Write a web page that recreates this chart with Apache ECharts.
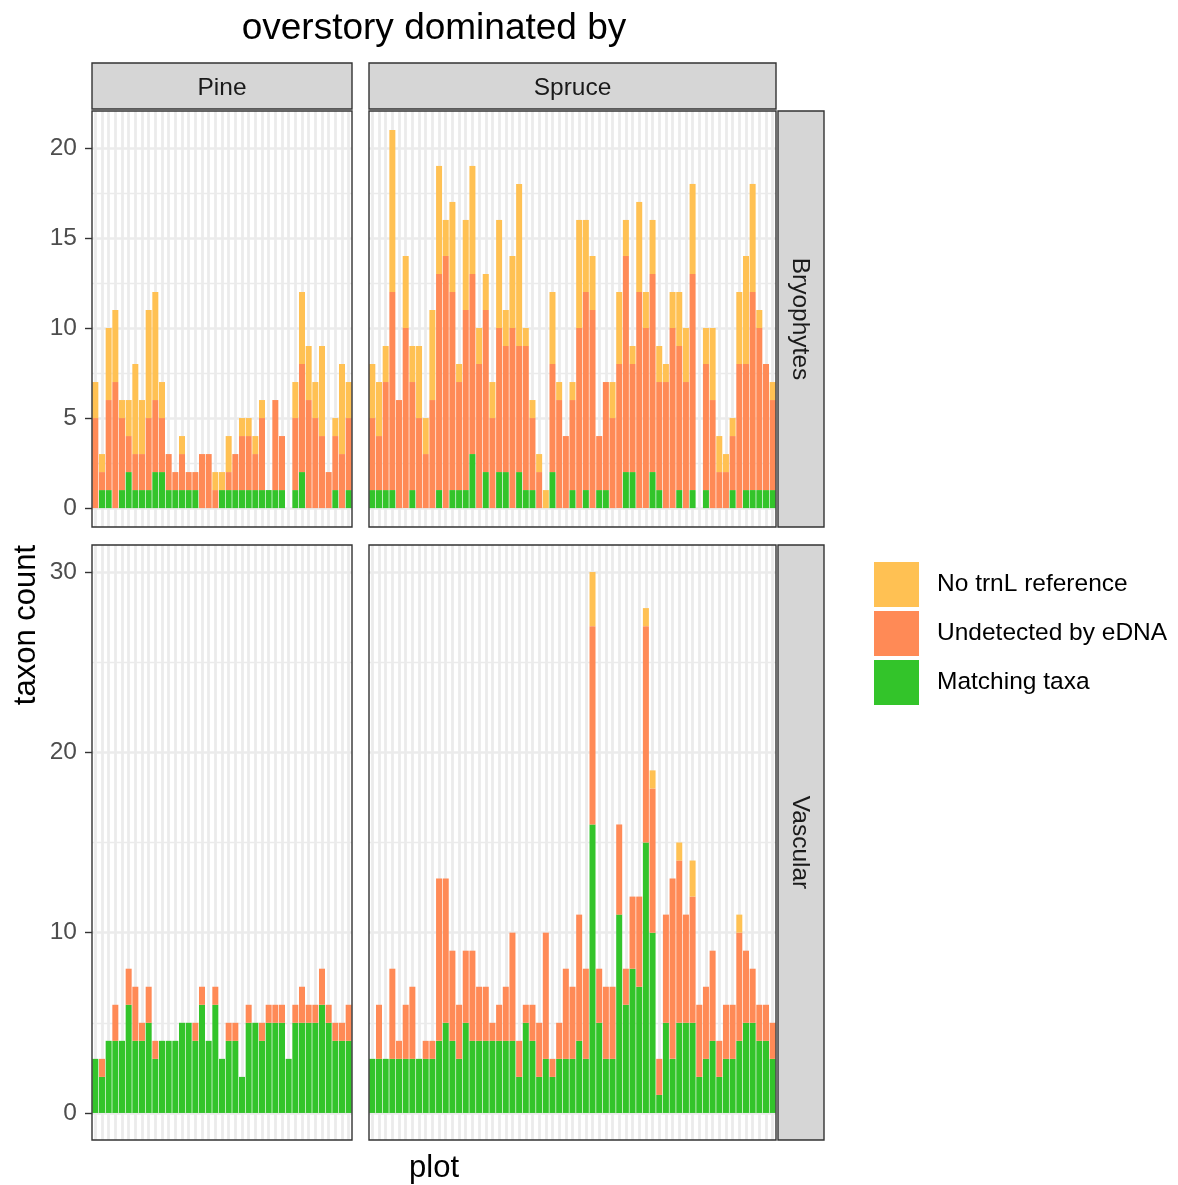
<!DOCTYPE html>
<html><head><meta charset="utf-8">
<script src="https://cdn.jsdelivr.net/npm/echarts@6/dist/echarts.min.js"></script>
<style>html,body{margin:0;padding:0;background:#fff}#c{width:1178px;height:1185px}</style>
</head><body><div id="c"></div><script>
// ---- categories (plots) ----
const pinePlots = [1,2,3,4,5,6,7,8,9,10,11,12,13,14,15,16,17,18,19,20,21,22,23,24,25,26,27,28,29,30,31,32,33,34,35,36,37,38,39];
const sprucePlots = [40,41,42,43,44,45,46,47,48,49,50,51,52,53,54,55,56,57,58,59,60,61,62,63,64,65,66,67,68,69,70,71,72,73,74,75,76,77,78,79,80,81,82,83,84,85,86,87,88,89,90,91,92,93,94,95,96,97,98,99,100];

// ---- Bryophytes, Pine ----
const bryoPineMatch = [0,1,1,0,1,2,1,1,1,2,2,1,1,1,1,1,0,0,0,1,1,1,1,1,1,1,1,1,1,0,1,2,0,0,0,0,1,0,1];
const bryoPineUndet = [5,1,5,7,4,2,2,2,4,4,3,2,1,2,1,1,3,3,1,0,1,2,3,3,2,4,0,5,3,0,4,6,6,5,4,2,3,3,4];
const bryoPineNoRef = [2,1,4,4,1,2,5,3,6,6,2,0,0,1,0,0,0,0,1,1,2,0,1,1,1,1,0,0,0,0,2,4,3,2,5,0,1,5,2];

// ---- Bryophytes, Spruce ----
const bryoSpruceMatch = [1,1,1,1,0,0,1,0,0,0,1,0,1,1,1,3,0,2,0,2,2,0,2,1,1,0,0,2,0,0,1,0,1,0,1,1,0,0,2,2,0,0,2,1,0,0,1,0,1,0,1,0,0,0,1,0,1,1,1,1,1];
const bryoSpruceUndet = [4,3,6,11,6,10,6,5,3,6,12,14,11,6,10,10,8,9,5,8,7,10,7,8,4,2,0,6,6,4,5,10,11,11,3,6,5,8,12,6,12,10,11,6,7,10,8,7,12,0,7,6,2,2,3,8,7,11,9,7,5];
const bryoSpruceNoRef = [3,3,2,9,0,4,2,4,2,5,6,2,5,1,5,6,2,2,2,6,2,4,9,1,1,1,1,4,1,0,1,6,4,3,0,0,2,4,2,1,5,2,3,2,1,2,3,3,5,0,2,4,2,1,1,4,6,6,1,0,1];

// ---- Vascular, Pine ----
const vascPineMatch = [3,2,4,4,4,6,4,4,5,3,4,4,4,5,5,4,6,4,6,3,4,4,2,5,5,4,5,5,5,3,5,5,5,5,6,5,4,4,4];
const vascPineUndet = [0,1,0,2,0,2,3,1,2,1,0,0,0,0,0,1,1,0,1,0,1,1,0,1,0,1,1,1,1,0,1,2,1,1,2,1,1,1,2];
const vascPineNoRef = [0,0,0,0,0,0,0,0,0,0,0,0,0,0,0,0,0,0,0,0,0,0,0,0,0,0,0,0,0,0,0,0,0,0,0,0,0,0,0];

// ---- Vascular, Spruce ----
const vascSpruceMatch = [3,3,3,3,3,3,3,3,3,3,4,5,4,3,5,4,4,4,4,4,4,4,2,5,4,2,3,2,3,3,3,4,3,16,5,3,3,11,6,8,7,15,10,1,5,3,5,5,5,2,3,4,2,3,3,4,5,5,4,4,3];
const vascSpruceUndet = [0,3,0,5,1,3,4,0,1,1,9,8,5,3,4,5,3,3,1,2,3,6,2,1,2,3,7,1,2,5,4,7,5,11,3,4,4,5,2,4,5,12,8,2,6,10,9,6,7,4,4,5,2,3,3,6,4,3,2,2,2];
const vascSpruceNoRef = [0,0,0,0,0,0,0,0,0,0,0,0,0,0,0,0,0,0,0,0,0,0,0,0,0,0,0,0,0,0,0,0,0,3,0,0,0,0,0,0,0,1,1,0,0,0,1,0,2,0,0,0,0,0,0,1,0,0,0,0,0];

// ---- tick labels ----
const bryoTicks = [0,5,10,15,20];
const bryoMinorTicks = [2.5,7.5,12.5,17.5];
const vascTicks = [0,10,20,30];
const vascMinorTicks = [5,15,25];

const groupNames = ['No trnL reference','Undetected by eDNA','Matching taxa'];
const COLORS = {'No trnL reference':'#FFC153','Undetected by eDNA':'#FF8A56','Matching taxa':'#33C42A'};
const FONT = "'Liberation Sans', Arial, Helvetica, sans-serif";
const GRID_COL = '#EBEBEB';

const panels = [
  {box:{left:92,top:111,width:260,height:416}, cats:pinePlots, m:bryoPineMatch, u:bryoPineUndet, n:bryoPineNoRef, min:-1.05, max:22.05, ticks:bryoTicks, minor:bryoMinorTicks, labels:true},
  {box:{left:369,top:111,width:407,height:416}, cats:sprucePlots, m:bryoSpruceMatch, u:bryoSpruceUndet, n:bryoSpruceNoRef, min:-1.05, max:22.05, ticks:bryoTicks, minor:bryoMinorTicks, labels:false},
  {box:{left:92,top:545,width:260,height:595}, cats:pinePlots, m:vascPineMatch, u:vascPineUndet, n:vascPineNoRef, min:-1.5, max:31.5, ticks:vascTicks, minor:vascMinorTicks, labels:true},
  {box:{left:369,top:545,width:407,height:595}, cats:sprucePlots, m:vascSpruceMatch, u:vascSpruceUndet, n:vascSpruceNoRef, min:-1.5, max:31.5, ticks:vascTicks, minor:vascMinorTicks, labels:false}
];

const grid = [], xAxis = [], yAxis = [], series = [], graphic = [];
panels.forEach((p, i) => {
  grid.push(Object.assign({containLabel:false, outerBoundsMode:'none', show:false}, p.box));
  xAxis.push({type:'category', gridIndex:i, data:p.cats, boundaryGap:true,
    axisLine:{show:false}, axisTick:{show:false}, axisLabel:{show:false},
    splitLine:{show:true, interval:0, alignWithLabel:true, lineStyle:{color:GRID_COL, width:2.8}}});
  yAxis.push({type:'value', gridIndex:i, min:p.min, max:p.max, position:'left',
    axisLine:{show:false},
    axisTick:{show:p.labels, customValues:p.ticks, length:7, lineStyle:{color:'#333333', width:1.4}},
    axisLabel:{show:p.labels, customValues:p.ticks, margin:15, fontSize:24.5, color:'#4D4D4D', fontFamily:FONT, padding:[3,0,0,0]},
    splitLine:{show:true, lineStyle:{color:GRID_COL, width:2.7}}});
  yAxis.push({type:'value', gridIndex:i, min:p.min, max:p.max, position:'left',
    axisLine:{show:false},
    axisTick:{show:false, customValues:p.minor},
    axisLabel:{show:false, customValues:p.minor},
    splitLine:{show:true, lineStyle:{color:GRID_COL, width:1.4}}});
  const parts = [['Matching taxa', p.m], ['Undetected by eDNA', p.u], ['No trnL reference', p.n]];
  parts.forEach(([name, data]) => {
    series.push({type:'bar', name, xAxisIndex:i, yAxisIndex:2*i, stack:'s'+i, data,
      barCategoryGap:'10%', itemStyle:{color:COLORS[name]}, emphasis:{disabled:true}, silent:true});
  });
  graphic.push({type:'rect', z:100, shape:{x:p.box.left, y:p.box.top, width:p.box.width, height:p.box.height},
    style:{fill:null, stroke:'#333333', lineWidth:1.4}});
});

// strips
const strips = [
  {x:92, y:63, w:260, h:46, text:'Pine', rot:0, dx:0, dy:2},
  {x:369, y:63, w:407, h:46, text:'Spruce', rot:0, dx:0, dy:2},
  {x:778, y:111, w:46, h:416, text:'Bryophytes', rot:-Math.PI/2, dx:-1, dy:0},
  {x:778, y:545, w:46, h:595, text:'Vascular', rot:-Math.PI/2, dx:-1, dy:0}
];
strips.forEach(s => {
  graphic.push({type:'rect', z:100, shape:{x:s.x, y:s.y, width:s.w, height:s.h},
    style:{fill:'#D6D6D6', stroke:'#333333', lineWidth:1.4}});
  graphic.push({type:'text', z:101, x:s.x + s.w/2 + s.dx, y:s.y + s.h/2 + s.dy, rotation:s.rot,
    style:{text:s.text, x:0, y:0, align:'center', verticalAlign:'middle', fontSize:24.5, fontFamily:FONT, fill:'#1A1A1A'}});
});
// titles
graphic.push({type:'text', z:101, x:434, y:29, style:{text:'overstory dominated by', x:0, y:0, align:'center', verticalAlign:'middle', fontSize:37, fontFamily:FONT, fill:'#000'}});
graphic.push({type:'text', z:101, x:434, y:1168, style:{text:'plot', x:0, y:0, align:'center', verticalAlign:'middle', fontSize:31, fontFamily:FONT, fill:'#000'}});
graphic.push({type:'text', z:101, x:26, y:625, rotation:Math.PI/2, style:{text:'taxon count', x:0, y:0, align:'center', verticalAlign:'middle', fontSize:31, fontFamily:FONT, fill:'#000'}});

const chart = echarts.init(document.getElementById('c'), null, {renderer:'canvas'});
chart.setOption({
  backgroundColor:'#ffffff',
  animation:false,
  grid, xAxis, yAxis, series, graphic,
  legend:{orient:'vertical', left:874, top:562, padding:0, itemGap:4, itemWidth:45, itemHeight:45,
    icon:'rect', data:groupNames, selectedMode:false,
    textStyle:{fontSize:24.5, fontFamily:FONT, color:'#000', padding:[4,0,0,13]}}
});
</script></body></html>
